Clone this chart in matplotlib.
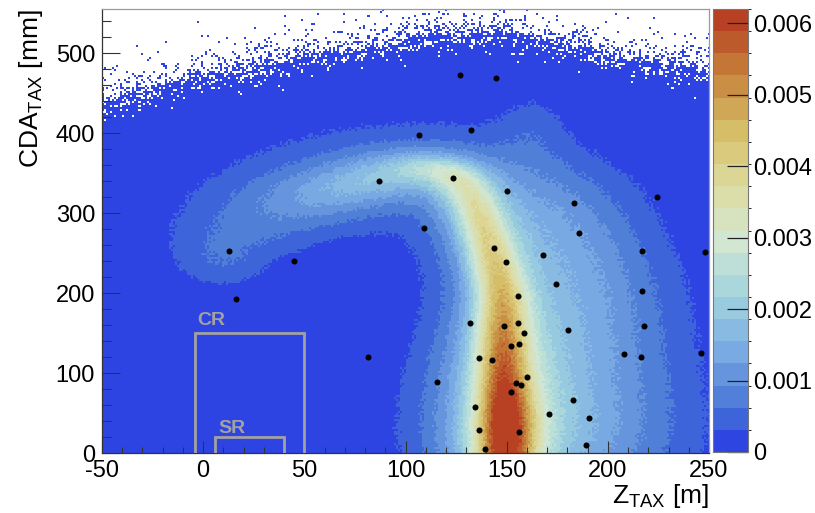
import numpy as np
import matplotlib
matplotlib.use("Agg")
import matplotlib.pyplot as plt
from matplotlib.colors import LinearSegmentedColormap, ListedColormap, BoundaryNorm
from matplotlib.ticker import MultipleLocator
from matplotlib.cm import ScalarMappable

plt.rcParams['font.family'] = ['Liberation Sans', 'DejaVu Sans']
plt.rcParams['mathtext.fontset'] = 'custom'
plt.rcParams['mathtext.rm'] = 'Liberation Sans'
plt.rcParams['axes.unicode_minus'] = False

# ---------------------------------------------------------------- data
# Spine of the simulated background ridge (Z [m], CDA [mm]) and the density
# profile across it: a narrow core, an inner halo centred on the spine and
# an outer halo shifted towards the outside of the bend.
spine_z      = [149, 149, 148, 147, 141, 134, 127, 116, 100, 89, 72, 56, 40, 25, 13, 7, 10]
spine_cda    = [-40, 40, 100, 200, 260, 310, 345, 360, 357, 347, 333, 318, 303, 286, 268, 250, 212]
core_amp     = [0.0040, 0.0040, 0.0030, 0.0020, 0.0017, 0.0014, 0.0011, 0.0007,
                0.0003, 0.0001, 0.0, 0.0, 0.0, 0.0, 0.0, 0.0, 0.0]
core_sigma   = [10, 10, 9, 8, 8, 8, 8, 9, 10, 12, 12, 12, 12, 12, 12, 12, 12]
inner_amp    = [0.0016, 0.0016, 0.0016, 0.0015, 0.0013, 0.0012, 0.0012, 0.0012,
                0.0013, 0.0013, 0.0012, 0.0009, 0.0006, 0.00045, 0.0003, 0.00028, 0.00025]
inner_sigma  = [20, 20, 18, 13, 13, 13, 14, 17, 19, 20, 20, 22, 28, 30, 24, 18, 15]
outer_amp    = [0.0017, 0.0017, 0.0016, 0.0016, 0.0015, 0.0014, 0.0012, 0.0009,
                0.0008, 0.0007, 0.0006, 0.0006, 0.0005, 0.0004, 0.0003, 0.00028, 0.00025]
outer_sigma  = [42, 42, 40, 35, 35, 35, 40, 44, 44, 42, 40, 40, 38, 32, 24, 18, 15]
outer_shift  = [25, 25, 25, 30, 28, 25, 25, 25, 24, 22, 20, 18, 12, 5, 0, 0, 0]

# faint plume above the ridge (centre Z, centre CDA, amplitude, widths)
plume_z, plume_cda, plume_amp, plume_wz, plume_wcda = 163, 410, 0.0003, 12, 35

# upper envelope of populated bins
edge_z   = [-50, -18, 15, 48, 81, 114, 147, 180, 206, 250]
edge_cda = [429, 454, 470, 487, 500, 516, 520, 504, 487, 470]

# observed events
event_z = [12.6, 16.4, 45.0, 81.3, 86.7, 106.5, 109.0, 115.4, 123.5, 126.9,
           131.9, 132.2, 134.4, 136.2, 136.2, 139.3, 142.8, 143.6, 144.9, 148.8,
           149.8, 150.2, 152.0, 152.3, 154.8, 155.8, 155.8, 156.3, 156.3, 157.0,
           158.4, 160.1, 167.8, 171.1, 174.5, 180.3, 182.9, 183.4, 185.9, 189.4,
           190.5, 208.2, 216.2, 216.9, 216.9, 218.0, 224.3, 245.9, 248.0]
event_cda = [252.9, 192.1, 239.6, 120.4, 340.4, 397.9, 281.7, 89.2, 343.3, 472.0,
             162.9, 403.3, 57.9, 119.1, 28.3, 5.0, 116.2, 256.6, 468.7, 158.4,
             238.7, 327.5, 133.4, 75.9, 87.5, 195.8, 162.9, 136.6, 26.7, 84.6,
             150.0, 94.6, 247.5, 49.2, 211.0, 154.2, 65.8, 312.1, 275.0, 9.6,
             43.8, 123.3, 119.6, 252.9, 202.9, 159.1, 320.0, 125.0, 251.25]

# control and signal regions
cr_z, cr_cda = [-4, 50], [0, 150]
sr_z, sr_cda = [6, 40], [0, 20]

z_max = 0.0062
n_levels = 20
cbar_ticks = [0, 0.001, 0.002, 0.003, 0.004, 0.005, 0.006]
cbar_labels = ['0', '0.001', '0.002', '0.003', '0.004', '0.005', '0.006']

# light-temperature palette stops
pal_r = [31, 71, 123, 160, 210, 222, 214, 199, 183]
pal_g = [40, 117, 171, 211, 231, 220, 190, 132, 65]
pal_b = [234, 214, 228, 222, 210, 160, 105, 60, 34]

# ---------------------------------------------------------------- histogram
z_edges = np.arange(-50, 250.001, 1.0)
c_edges = np.arange(0, 555.001, 2.5)
zc = 0.5 * (z_edges[1:] + z_edges[:-1])
cc = 0.5 * (c_edges[1:] + c_edges[:-1])
Z, C = np.meshgrid(zc, cc)

sz = np.array(spine_z, float)
sc = np.array(spine_cda, float)
arc = np.concatenate([[0.0], np.cumsum(np.hypot(np.diff(sz), np.diff(sc)))])
ds = 1.0
s_fine = np.arange(0.0, arc[-1] + 1e-9, ds)
px = np.interp(s_fine, arc, sz)
py = np.interp(s_fine, arc, sc)
tx = np.gradient(px)
ty = np.gradient(py)
tn = np.hypot(tx, ty)
tx, ty = tx / tn, ty / tn
nx, ny = ty, -tx          # normal pointing to the outside of the bend


def prof(vals):
    return np.interp(s_fine, arc, vals)


ca, cs = prof(core_amp), prof(core_sigma)
ia, isg = prof(inner_amp), prof(inner_sigma)
oa, osg, osh = prof(outer_amp), prof(outer_sigma), prof(outer_shift)

dens = np.zeros(Z.shape)
norm1d = ds / np.sqrt(2 * np.pi)
for k in range(len(s_fine)):
    r2 = (Z - px[k]) ** 2 + (C - py[k]) ** 2
    if ca[k] > 0:
        dens += ca[k] * norm1d / cs[k] * np.exp(-0.5 * r2 / cs[k] ** 2)
    dens += ia[k] * norm1d / isg[k] * np.exp(-0.5 * r2 / isg[k] ** 2)
    ox = px[k] + osh[k] * nx[k]
    oy = py[k] + osh[k] * ny[k]
    r2o = (Z - ox) ** 2 + (C - oy) ** 2
    dens += oa[k] * norm1d / osg[k] * np.exp(-0.5 * r2o / osg[k] ** 2)

dens += plume_amp * np.exp(-0.5 * ((Z - plume_z) / plume_wz) ** 2
                           - 0.5 * ((C - plume_cda) / plume_wcda) ** 2)


# per-bin fluctuation pattern from an integer hash of the bin indices
def bin_hash(a, b, seed):
    h = (a.astype(np.uint64) * np.uint64(374761393)
         + b.astype(np.uint64) * np.uint64(668265263)
         + np.uint64(seed) * np.uint64(2246822519)) & np.uint64(0xFFFFFFFF)
    h = ((h ^ (h >> np.uint64(13))) * np.uint64(1274126177)) & np.uint64(0xFFFFFFFF)
    h = h ^ (h >> np.uint64(16))
    return h.astype(np.float64) / 4294967296.0


jj, ii = np.meshgrid(np.arange(len(zc)), np.arange(len(cc)))
t_fill = bin_hash(jj, ii, 11)
t_fluc = bin_hash(jj, ii, 29)

edge = np.interp(Z, edge_z, edge_cda)
above = C - edge
p_fill = np.where(above > 0, np.exp(-above / 14.0), 1.0 - 0.5 * np.exp(above / 6.0))
filled = p_fill > t_fill

hist = np.maximum(dens, 1e-5)
hist = hist + (t_fluc - 0.5) * 0.0046 * np.sqrt(hist)
hist = np.maximum(hist, 1e-6)
hist = np.where(filled, hist, np.nan)

# ---------------------------------------------------------------- colours
stops = np.linspace(0, 1, len(pal_r))
base = LinearSegmentedColormap.from_list(
    'lighttemp', list(zip(stops, [(r / 255, g / 255, b / 255)
                                  for r, g, b in zip(pal_r, pal_g, pal_b)])))
band_colors = [base((i + 0.99) / n_levels) for i in range(n_levels)]
cmap = ListedColormap(band_colors)
cmap.set_bad((1, 1, 1, 0))
cmap.set_over(band_colors[-1])
cmap.set_under(band_colors[0])
levels = np.linspace(0, z_max, n_levels + 1)
norm = BoundaryNorm(levels, n_levels)

# ---------------------------------------------------------------- figure
fig = plt.figure(figsize=(8.15, 5.13), dpi=100)
ax = fig.add_axes([102 / 815, 60 / 513, 607 / 815, 444 / 513])
cax = fig.add_axes([713 / 815, 61 / 513, 35 / 815, 443 / 513])

ax.imshow(hist, origin='lower', extent=[-50, 250, 0, 555], aspect='auto',
          interpolation='nearest', cmap=cmap, norm=norm)

ax.scatter(event_z, event_cda, s=19, c='black', linewidths=0, zorder=5)

box_col = '#a2a2a2'
ax.plot([cr_z[0], cr_z[0], cr_z[1], cr_z[1]], [cr_cda[0], cr_cda[1], cr_cda[1], cr_cda[0]],
        color=box_col, lw=2.0, zorder=4, solid_joinstyle='miter')
ax.plot([sr_z[0], sr_z[0], sr_z[1], sr_z[1]], [sr_cda[0], sr_cda[1], sr_cda[1], sr_cda[0]],
        color=box_col, lw=2.0, zorder=4, solid_joinstyle='miter')
ax.text(-3, 155, 'CR', color=box_col, fontsize=14, fontweight='bold', ha='left', va='bottom')
ax.text(7.5, 20.5, 'SR', color=box_col, fontsize=14, fontweight='bold', ha='left', va='bottom')

ax.set_xlim(-50, 250)
ax.set_ylim(0, 555)
ax.xaxis.set_major_locator(MultipleLocator(50))
ax.xaxis.set_minor_locator(MultipleLocator(10))
ax.yaxis.set_major_locator(MultipleLocator(100))
ax.yaxis.set_minor_locator(MultipleLocator(20))
ax.tick_params(axis='x', which='major', direction='in', length=8.6, width=0.8,
               color='#333333', labelsize=17, pad=5)
ax.tick_params(axis='x', which='minor', direction='in', length=4.3, width=0.8, color='#333333')
ax.tick_params(axis='y', which='major', direction='in', length=13, width=0.8,
               color='#333333', labelsize=17, pad=5)
ax.tick_params(axis='y', which='minor', direction='in', length=6.5, width=0.8, color='#333333')
for sp in ('left', 'bottom'):
    ax.spines[sp].set_color('#333333')
    ax.spines[sp].set_linewidth(0.9)
for sp in ('top', 'right'):
    ax.spines[sp].set_color('#9a9a9a')
    ax.spines[sp].set_linewidth(0.9)

ax.set_xlabel(r'$\mathregular{Z_{TAX}}$ [m]', fontsize=19, loc='right', labelpad=0)
ax.set_ylabel(r'$\mathregular{CDA_{TAX}}$ [mm]', fontsize=19, loc='top', labelpad=8)

sm = ScalarMappable(norm=norm, cmap=cmap)
cb = fig.colorbar(sm, cax=cax, ticks=cbar_ticks)
cb.ax.set_yticklabels(cbar_labels)
cb.ax.tick_params(direction='in', length=15, width=0.9, color='#222222',
                  labelsize=17, pad=4)
cb.outline.set_edgecolor('#777777')
cb.outline.set_linewidth(0.8)

fig.savefig('out.png', dpi=100)
